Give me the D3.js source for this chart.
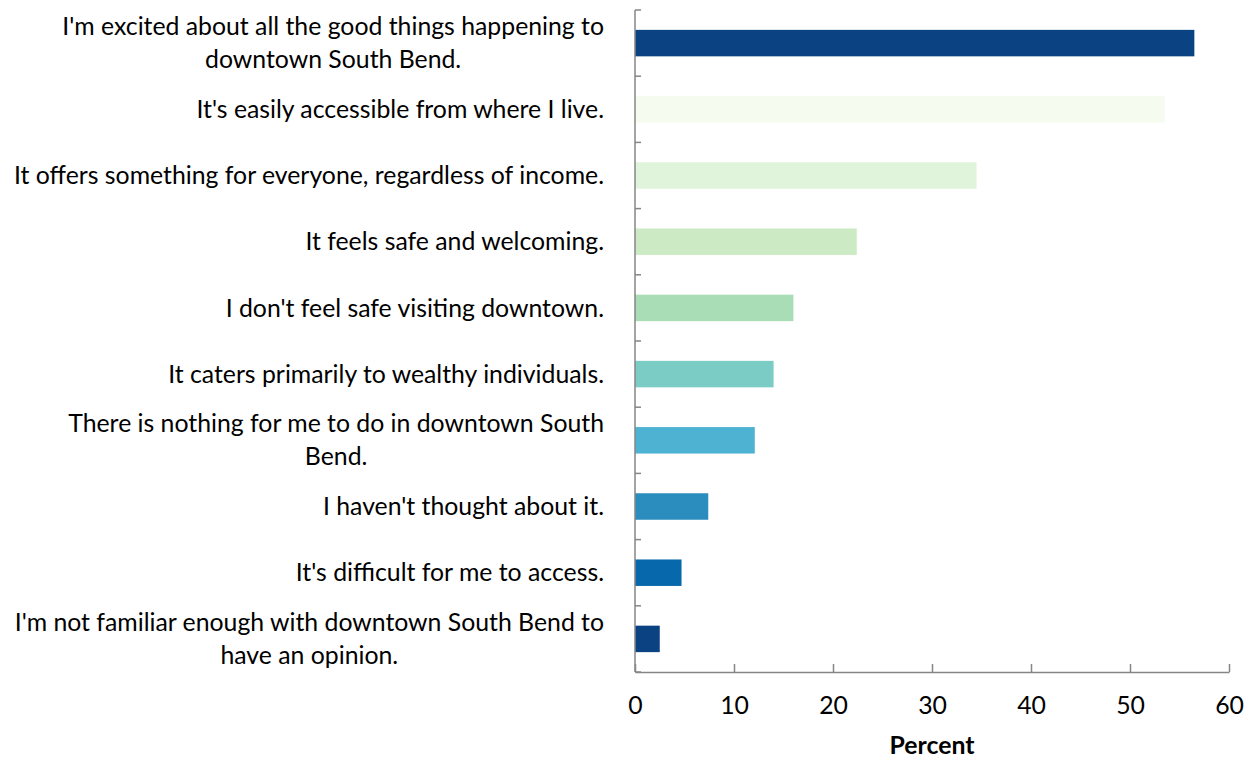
<!DOCTYPE html>
<html>
<head>
<meta charset="utf-8">
<script src="https://cdn.jsdelivr.net/npm/d3@7"></script>
<style>
  body { margin: 0; background: #fff; }
  text { font-family: Lato, "Open Sans", sans-serif; fill: #000; }
</style>
</head>
<body>
<div id="chart"></div>
<script>
// categories, top to bottom, wrapped as in the picture
var labels = [
  ["I'm excited about all the good things happening to", "downtown South Bend."],
  ["It's easily accessible from where I live."],
  ["It offers something for everyone, regardless of income."],
  ["It feels safe and welcoming."],
  ["I don't feel safe visiting downtown."],
  ["It caters primarily to wealthy individuals."],
  ["There is nothing for me to do in downtown South", "Bend."],
  ["I haven't thought about it."],
  ["It's difficult for me to access."],
  ["I'm not familiar enough with downtown South Bend to", "have an opinion."]
];
var values = [56.5, 53.5, 34.5, 22.4, 16.0, 14.0, 12.1, 7.4, 4.7, 2.5];
var barColors = ["#0a4282", "#f5fbee", "#e0f3db", "#ccebc5", "#a8ddb5", "#7bccc4", "#4eb3d3", "#2b8cbe", "#0868ac", "#0a4282"];
var xTicks = [0, 10, 20, 30, 40, 50, 60];

var W = 1253, H = 758;
var margin = {top: 10, right: 24, bottom: 86, left: 635};
var width = W - margin.left - margin.right,
    height = H - margin.top - margin.bottom;
var fs = "24.8px";

var svg = d3.select("#chart").append("svg")
  .attr("width", W)
  .attr("height", H);

var g = svg.append("g")
  .attr("transform", "translate(" + margin.left + "," + margin.top + ")");

var x = d3.scaleLinear().domain([0, 60]).range([0, width]);
var idx = d3.range(labels.length);
var y = d3.scaleBand().domain(idx).range([0, height]).paddingInner(0.6).paddingOuter(0.3);

// bars
g.selectAll("rect.bar")
  .data(idx)
  .enter().append("rect")
  .attr("class", "bar")
  .attr("x", x(0))
  .attr("y", function(i) { return y(i); })
  .attr("width", function(i) { return x(values[i]) - x(0); })
  .attr("height", y.bandwidth())
  .attr("fill", function(i) { return barColors[i]; });

var axisColor = "#868686";

// y axis line + category ticks (inside, to the right)
var step = height / labels.length;
g.append("line")
  .attr("x1", 0).attr("x2", 0).attr("y1", 0).attr("y2", height)
  .attr("stroke", axisColor).attr("stroke-width", 1.5);
g.selectAll("line.ytick")
  .data(d3.range(labels.length + 1))
  .enter().append("line")
  .attr("class", "ytick")
  .attr("x1", 0).attr("x2", 6)
  .attr("y1", function(i) { return i * step; })
  .attr("y2", function(i) { return i * step; })
  .attr("stroke", axisColor).attr("stroke-width", 1.5);

// x axis
var xAxis = g.append("g")
  .attr("transform", "translate(0," + height + ")")
  .call(d3.axisBottom(x).tickValues(xTicks).tickSizeInner(-8).tickSizeOuter(0).tickPadding(24));
xAxis.select(".domain").attr("stroke", axisColor).attr("stroke-width", 1.5);
xAxis.selectAll(".tick line").attr("stroke", axisColor).attr("stroke-width", 1.5);
xAxis.selectAll(".tick text")
  .style("font-family", "Lato, 'Open Sans', sans-serif")
  .style("font-size", fs)
  .attr("fill", "#000");

// category labels: block right-aligned, lines centered within block
var labelG = svg.append("g").attr("class", "labels");
labels.forEach(function(lines, i) {
  var cy = margin.top + y(i) + y.bandwidth() / 2;
  var t = labelG.append("text")
    .style("font-size", fs)
    .attr("text-anchor", "middle");
  var lh = 33;
  var y0 = cy - (lines.length - 1) * lh / 2;
  lines.forEach(function(s, k) {
    t.append("tspan").attr("y", y0 + k * lh).attr("dy", "0.35em").text(s);
  });
  var maxW = 0;
  t.selectAll("tspan").each(function() {
    maxW = Math.max(maxW, this.getComputedTextLength());
  });
  var cx = 604 - maxW / 2;
  t.selectAll("tspan").attr("x", cx);
});

// x axis title
svg.append("text")
  .attr("x", margin.left + width / 2)
  .attr("y", 754)
  .attr("text-anchor", "middle")
  .style("font-size", fs)
  .style("font-weight", "bold")
  .text("Percent");
</script>
</body>
</html>
